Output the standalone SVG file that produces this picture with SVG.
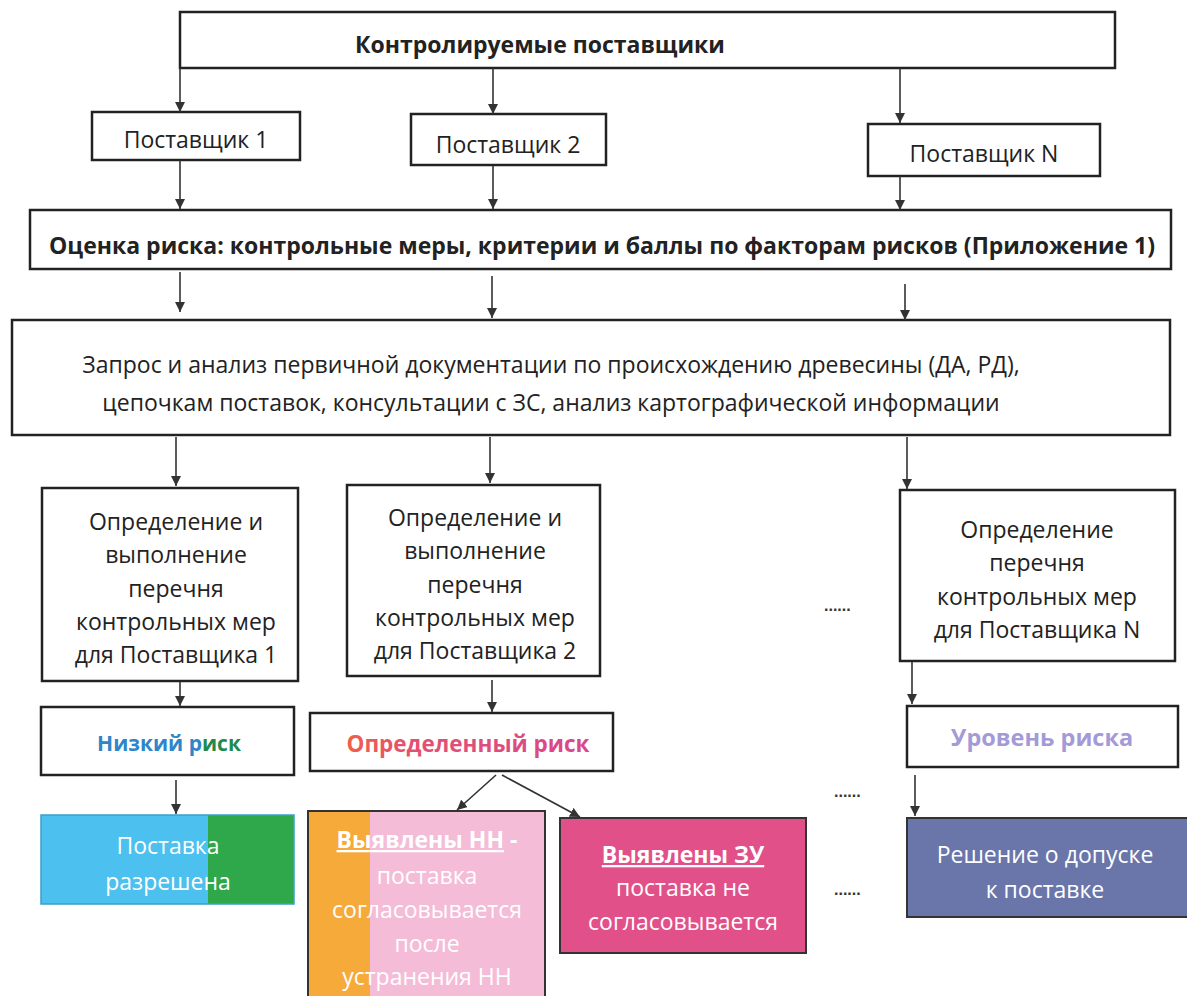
<svg xmlns="http://www.w3.org/2000/svg" width="1187" height="996" viewBox="0 0 1187 996">
<style>
.box{fill:#fff;stroke:#222;stroke-width:2.5}
.t{font-family:"Open Sans","Noto Sans","Liberation Sans",sans-serif;font-size:23px;fill:#222;text-anchor:middle}
.b{font-weight:bold}
.w{fill:#fff}
.con{stroke:#333;stroke-width:1.6;fill:none;marker-end:url(#arr)}
.dots{font-family:"Liberation Sans",sans-serif;font-size:16px;font-weight:bold;fill:#333}
</style>
<defs>
<marker id="arr" viewBox="0 0 10 10" refX="10" refY="5" markerWidth="10" markerHeight="10" markerUnits="userSpaceOnUse" orient="auto">
<path d="M0,0 L10,5 L0,10 z" fill="#333"/>
</marker>
<linearGradient id="redg" x1="0" y1="0" x2="1" y2="0">
<stop offset="0" stop-color="#f0604a"/>
<stop offset="0.25" stop-color="#e45070"/>
<stop offset="1" stop-color="#d8488c"/>
</linearGradient>
</defs>

<g id="n_top">
<rect class="box" x="180" y="12" width="935" height="56"/>
<text class="t b" x="540" y="53">Контролируемые поставщики</text>
</g>
<g id="n_s1">
<rect class="box" x="92" y="112" width="208" height="48"/>
<text class="t" x="196" y="148">Поставщик 1</text>
</g>
<g id="n_s2">
<rect class="box" x="411" y="114" width="195" height="51"/>
<text class="t" x="508" y="153">Поставщик 2</text>
</g>
<g id="n_sn">
<rect class="box" x="868" y="124" width="232" height="52"/>
<text class="t" x="984" y="162">Поставщик N</text>
</g>
<g id="n_risk">
<rect class="box" x="30" y="210" width="1141" height="59"/>
<text class="t b" x="602" y="254">Оценка риска: контрольные меры, критерии и баллы по факторам рисков (Приложение 1)</text>
</g>
<g id="n_req">
<rect class="box" x="12" y="320" width="1158" height="115"/>
<text class="t" x="551" y="373">Запрос и анализ первичной документации по происхождению древесины (ДА, РД),</text>
<text class="t" x="551" y="411">цепочкам поставок, консультации с ЗС, анализ картографической информации</text>
</g>
<g id="n_d1">
<rect class="box" x="42" y="488" width="256" height="193"/>
<text class="t" x="176" y="530">Определение и</text>
<text class="t" x="176" y="563">выполнение</text>
<text class="t" x="176" y="597">перечня</text>
<text class="t" x="176" y="630">контрольных мер</text>
<text class="t" x="176" y="663">для Поставщика 1</text>
</g>
<g id="n_d2">
<rect class="box" x="347" y="485" width="253" height="191"/>
<text class="t" x="475" y="526">Определение и</text>
<text class="t" x="475" y="559">выполнение</text>
<text class="t" x="475" y="593">перечня</text>
<text class="t" x="475" y="626">контрольных мер</text>
<text class="t" x="475" y="659">для Поставщика 2</text>
</g>
<g id="n_dn">
<rect class="box" x="900" y="490" width="275" height="171"/>
<text class="t" x="1037" y="538">Определение</text>
<text class="t" x="1037" y="571">перечня</text>
<text class="t" x="1037" y="605">контрольных мер</text>
<text class="t" x="1037" y="638">для Поставщика N</text>
</g>
<text class="dots" x="824" y="611">......</text>

<g id="n_low">
<rect class="box" x="41" y="707" width="253" height="68"/>
<text class="t b" x="169" y="751" style="font-size:21px"><tspan fill="#2e86c8">Низкий р</tspan><tspan fill="#1f8a50">иск</tspan></text>
</g>
<g id="n_def">
<rect class="box" x="310" y="713" width="303" height="58"/>
<text class="t b" x="468" y="752" style="fill:url(#redg);font-size:22.5px">Определенный риск</text>
</g>
<g id="n_lvl">
<rect class="box" x="907" y="706" width="271" height="61"/>
<text class="t b" x="1042" y="746" style="fill:#a49ad8;font-size:23.5px">Уровень риска</text>
</g>
<text class="dots" x="834" y="797">......</text>

<g id="n_ok">
<rect x="41" y="815" width="167" height="89" fill="#4cc0ee"/>
<rect x="208" y="815" width="86" height="89" fill="#2fa84c"/>
<rect x="41" y="815" width="253" height="89" fill="none" stroke="#3aa0c8" stroke-width="1.5"/>
<text class="t w" x="168" y="854">Поставка</text>
<text class="t w" x="168" y="890">разрешена</text>
</g>
<g id="n_nn">
<rect x="308" y="811" width="62" height="190" fill="#f6aa3a"/>
<rect x="370" y="811" width="175" height="190" fill="#f5bcd8"/>
<rect x="308" y="811" width="237" height="190" fill="none" stroke="#333" stroke-width="2"/>
<text class="t w b" x="427" y="848"><tspan text-decoration="underline">Выявлены НН</tspan> -</text>
<text class="t w" x="427" y="884">поставка</text>
<text class="t w" x="427" y="918">согласовывается</text>
<text class="t w" x="427" y="952">после</text>
<text class="t w" x="427" y="985">устранения НН</text>
</g>
<g id="n_zu">
<rect x="560" y="818" width="246" height="135" fill="#e2508a" stroke="#333" stroke-width="2"/>
<text class="t w b" x="683" y="863" text-decoration="underline">Выявлены ЗУ</text>
<text class="t w" x="683" y="896">поставка не</text>
<text class="t w" x="683" y="930">согласовывается</text>
</g>
<text class="dots" x="834" y="895">......</text>
<g id="n_dec">
<rect x="907" y="818" width="282" height="99" fill="#6a76aa" stroke="#333" stroke-width="2"/>
<text class="t w" x="1045" y="863">Решение о допуске</text>
<text class="t w" x="1045" y="898">к поставке</text>
</g>

<g id="connectors">
<line class="con" x1="180" y1="68" x2="180" y2="112"/>
<line class="con" x1="493" y1="68" x2="493" y2="114"/>
<line class="con" x1="900" y1="68" x2="900" y2="123"/>
<line class="con" x1="180" y1="160" x2="180" y2="209"/>
<line class="con" x1="493" y1="166" x2="493" y2="209"/>
<line class="con" x1="900" y1="176" x2="900" y2="210"/>
<line class="con" x1="180" y1="272" x2="180" y2="312"/>
<line class="con" x1="492" y1="276" x2="492" y2="318"/>
<line class="con" x1="905" y1="284" x2="905" y2="320"/>
<line class="con" x1="176" y1="437" x2="176" y2="486"/>
<line class="con" x1="490" y1="437" x2="490" y2="483"/>
<line class="con" x1="907" y1="437" x2="907" y2="489"/>
<line class="con" x1="180" y1="682" x2="180" y2="706"/>
<line class="con" x1="492" y1="680" x2="492" y2="712"/>
<line class="con" x1="912" y1="662" x2="912" y2="704"/>
<line class="con" x1="176" y1="780" x2="176" y2="814"/>
<line class="con" x1="496" y1="775" x2="457" y2="810"/>
<line class="con" x1="502" y1="775" x2="580" y2="817"/>
<line class="con" x1="915" y1="775" x2="915" y2="816"/>
</g>
</svg>
